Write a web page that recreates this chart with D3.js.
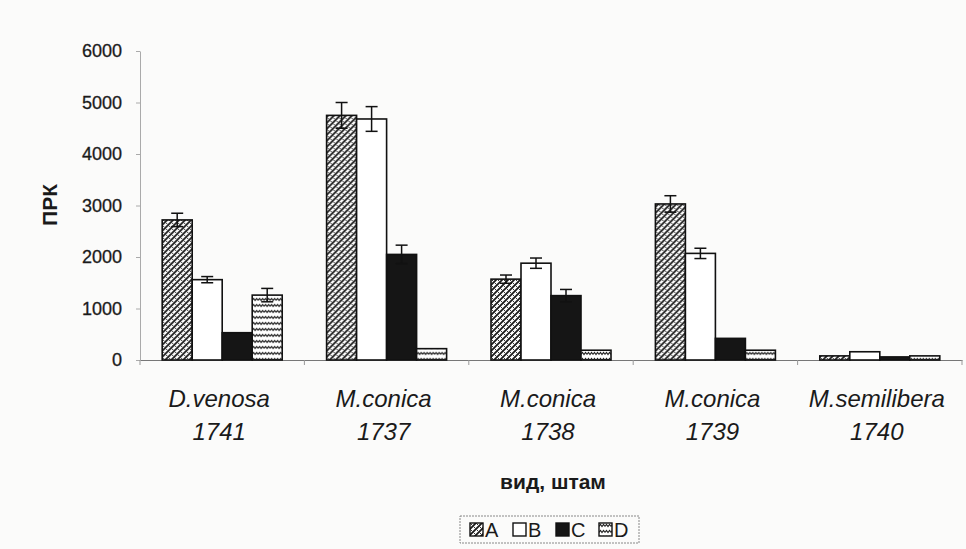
<!DOCTYPE html>
<html>
<head>
<meta charset="utf-8">
<script src="https://cdn.jsdelivr.net/npm/d3@7"></script>
<style>
  body { margin: 0; background: #fbfbfa; }
  svg { display: block; font-family: Arial, "Liberation Sans", sans-serif; }
</style>
</head>
<body>
<svg width="966" height="549"></svg>
<script>
// categories (two-line labels) and series
const species = ["D.venosa", "M.conica", "M.conica", "M.conica", "M.semilibera"];
const strains = ["1741", "1737", "1738", "1739", "1740"];
const seriesNames = ["A", "B", "C", "D"];

// values per series, one per strain
const valuesA = [2720, 4750, 1570, 3030, 80];
const valuesB = [1560, 4680, 1880, 2070, 160];
const valuesC = [530, 2050, 1250, 420, 60];
const valuesD = [1260, 220, 190, 190, 80];

// error bars (+/-)
const errA = [130, 250, 80, 160, 0];
const errB = [60, 240, 100, 100, 0];
const errC = [0, 180, 120, 0, 0];
const errD = [130, 0, 0, 0, 0];

const yTicks = [0, 1000, 2000, 3000, 4000, 5000, 6000];

const svg = d3.select("svg");

const margin = { left: 140, right: 4, top: 51, bottom: 189 };
const plotW = 966 - margin.left - margin.right;
const plotH = 549 - margin.top - margin.bottom;

const values = [valuesA, valuesB, valuesC, valuesD];
const errs = [errA, errB, errC, errD];

const data = strains.map(function (s, i) {
  return {
    key: s,
    bars: seriesNames.map(function (n, j) {
      return { series: n, value: values[j][i], err: errs[j][i] };
    }),
  };
});

const x0 = d3.scaleBand()
  .domain(strains)
  .range([0, plotW])
  .paddingInner(0.27)
  .paddingOuter(0.135);

const x1 = d3.scaleBand()
  .domain(seriesNames)
  .range([0, x0.bandwidth()]);

const y = d3.scaleLinear().domain([0, 6000]).range([plotH, 0]);

// fill patterns
const defs = svg.append("defs");

// A: dense diagonal cross-hatch
const patA = defs.append("pattern")
  .attr("id", "patA")
  .attr("patternUnits", "userSpaceOnUse")
  .attr("width", 6).attr("height", 6);
patA.append("rect").attr("width", 6).attr("height", 6).attr("fill", "#fff");
patA.append("path")
  .attr("d", "M-1,7 L7,-1 M-4,4 L4,-4 M2,10 L10,2")
  .attr("stroke", "#1a1a1a").attr("stroke-width", 1.8);
patA.append("path")
  .attr("d", "M0.5,0.5 L2,2 M3.5,3.5 L5.5,5.5")
  .attr("stroke", "#333").attr("stroke-width", 1);

// D: rows of small waves
const patD = defs.append("pattern")
  .attr("id", "patD")
  .attr("patternUnits", "userSpaceOnUse")
  .attr("width", 6).attr("height", 6);
patD.append("rect").attr("width", 6).attr("height", 6).attr("fill", "#fff");
patD.append("path")
  .attr("d", "M0,3.5 L1.5,1.5 L3,3.5 L4.5,1.5 L6,3.5")
  .attr("fill", "none")
  .attr("stroke", "#222").attr("stroke-width", 1.1);

const fills = { A: "url(#patA)", B: "#ffffff", C: "#151515", D: "url(#patD)" };

const g = svg.append("g")
  .attr("transform", "translate(" + margin.left + "," + margin.top + ")");

// y axis
const yAxis = g.append("g")
  .call(d3.axisLeft(y).tickValues(yTicks).tickFormat(d3.format("d")).tickSize(4).tickSizeOuter(0));
yAxis.select(".domain").attr("stroke", "#aaa");
yAxis.selectAll(".tick line").attr("stroke", "#aaa");
yAxis.selectAll(".tick text")
  .attr("x", -18)
  .attr("font-size", 18)
  .attr("fill", "#1a1a1a")
  .attr("stroke", "#1a1a1a")
  .attr("stroke-width", 0.3);

// x axis
const xAxis = g.append("g")
  .attr("transform", "translate(0," + plotH + ")")
  .call(d3.axisBottom(x0).tickSize(0).tickFormat(""));
xAxis.select(".domain").attr("stroke", "#777");

// tick marks between categories
g.append("g")
  .selectAll("line")
  .data(d3.range(strains.length + 1))
  .enter()
  .append("line")
  .attr("x1", function (i) { return i * x0.step(); })
  .attr("x2", function (i) { return i * x0.step(); })
  .attr("y1", plotH)
  .attr("y2", plotH + 5)
  .attr("stroke", "#999");

// bars
const groups = g.append("g")
  .selectAll("g")
  .data(data)
  .enter()
  .append("g")
  .attr("transform", function (d) { return "translate(" + x0(d.key) + ",0)"; });

groups.selectAll("rect")
  .data(function (d) { return d.bars; })
  .enter()
  .append("rect")
  .attr("x", function (d) { return x1(d.series); })
  .attr("y", function (d) { return y(d.value); })
  .attr("width", x1.bandwidth())
  .attr("height", function (d) { return plotH - y(d.value); })
  .attr("fill", function (d) { return fills[d.series]; })
  .attr("stroke", "#111")
  .attr("stroke-width", 1.6);

// error bars
const eb = groups.selectAll("g.err")
  .data(function (d) { return d.bars.filter(function (b) { return b.err > 0; }); })
  .enter()
  .append("g")
  .attr("class", "err")
  .attr("stroke", "#111")
  .attr("stroke-width", 1.5);

eb.append("line")
  .attr("x1", function (d) { return x1(d.series) + x1.bandwidth() / 2; })
  .attr("x2", function (d) { return x1(d.series) + x1.bandwidth() / 2; })
  .attr("y1", function (d) { return y(d.value + d.err); })
  .attr("y2", function (d) { return y(d.value - d.err); });
eb.append("line")
  .attr("x1", function (d) { return x1(d.series) + x1.bandwidth() / 2 - 6; })
  .attr("x2", function (d) { return x1(d.series) + x1.bandwidth() / 2 + 6; })
  .attr("y1", function (d) { return y(d.value + d.err); })
  .attr("y2", function (d) { return y(d.value + d.err); });
eb.append("line")
  .attr("x1", function (d) { return x1(d.series) + x1.bandwidth() / 2 - 6; })
  .attr("x2", function (d) { return x1(d.series) + x1.bandwidth() / 2 + 6; })
  .attr("y1", function (d) { return y(d.value - d.err); })
  .attr("y2", function (d) { return y(d.value - d.err); });

// category labels
const catLabels = g.append("g")
  .selectAll("text")
  .data(strains)
  .enter()
  .append("text")
  .attr("x", function (d) { return x0(d) + x0.bandwidth() / 2 - 3; })
  .attr("y", 407 - margin.top)
  .attr("text-anchor", "middle")
  .attr("font-size", 24)
  .attr("font-style", "italic")
  .attr("fill", "#1a1a1a");
catLabels.append("tspan")
  .text(function (d, i) { return species[i]; });
catLabels.append("tspan")
  .attr("x", function (d) { return x0(d) + x0.bandwidth() / 2 - 3; })
  .attr("dy", 33)
  .text(function (d) { return d; });

// axis titles
svg.append("text")
  .attr("x", 553)
  .attr("y", 489)
  .attr("text-anchor", "middle")
  .attr("font-size", 21)
  .attr("font-weight", "bold")
  .attr("fill", "#1a1a1a")
  .text("вид, штам");

svg.append("text")
  .attr("transform", "translate(57,205) rotate(-90)")
  .attr("text-anchor", "middle")
  .attr("font-size", 21)
  .attr("font-weight", "bold")
  .attr("fill", "#1a1a1a")
  .text("ПРК");

// legend
const legend = svg.append("g").attr("transform", "translate(460,516)");
legend.append("rect")
  .attr("width", 179).attr("height", 27)
  .attr("fill", "none")
  .attr("stroke", "#888")
  .attr("stroke-dasharray", "2,1");
const items = legend.selectAll("g.item")
  .data(seriesNames)
  .enter()
  .append("g")
  .attr("class", "item")
  .attr("transform", function (d, i) { return "translate(" + (10 + i * 43) + ",7)"; });
items.append("rect")
  .attr("width", 13).attr("height", 13)
  .attr("fill", function (d) { return fills[d]; })
  .attr("stroke", "#111")
  .attr("stroke-width", 1.4);
items.append("text")
  .attr("x", 15)
  .attr("y", 14)
  .attr("font-size", 20)
  .attr("fill", "#1a1a1a")
  .text(function (d) { return d; });
</script>
</body>
</html>
